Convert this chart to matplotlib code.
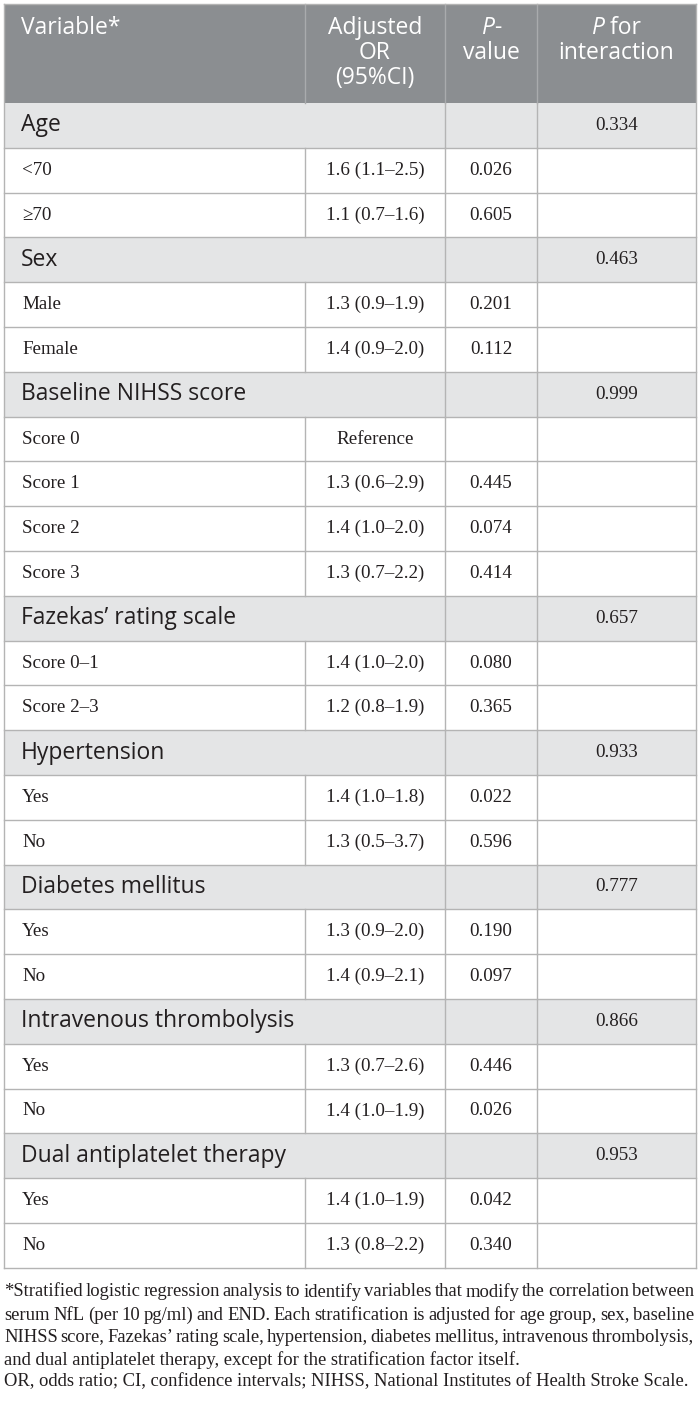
import matplotlib
matplotlib.use('Agg')
import matplotlib.pyplot as plt
from matplotlib.patches import Rectangle

# ---- table content ----
header_cols = [['Variable*'], ['Adjusted', 'OR', '(95%CI)'], ['P-', 'value'], ['P for', 'interaction']]

groups = ['Age', 'Sex', 'Baseline NIHSS score', 'Fazekas\u2019 rating scale', 'Hypertension',
          'Diabetes mellitus', 'Intravenous thrombolysis', 'Dual antiplatelet therapy']
p_interaction = ['0.334', '0.463', '0.999', '0.657', '0.933', '0.777', '0.866', '0.953']

sub_labels = [['<70', '\u226570'], ['Male', 'Female'], ['Score 0', 'Score 1', 'Score 2', 'Score 3'],
              ['Score 0\u20131', 'Score 2\u20133'], ['Yes', 'No'], ['Yes', 'No'], ['Yes', 'No'], ['Yes', 'No']]
adjusted_or = [['1.6 (1.1\u20132.5)', '1.1 (0.7\u20131.6)'],
               ['1.3 (0.9\u20131.9)', '1.4 (0.9\u20132.0)'],
               ['Reference', '1.3 (0.6\u20132.9)', '1.4 (1.0\u20132.0)', '1.3 (0.7\u20132.2)'],
               ['1.4 (1.0\u20132.0)', '1.2 (0.8\u20131.9)'],
               ['1.4 (1.0\u20131.8)', '1.3 (0.5\u20133.7)'],
               ['1.3 (0.9\u20132.0)', '1.4 (0.9\u20132.1)'],
               ['1.3 (0.7\u20132.6)', '1.4 (1.0\u20131.9)'],
               ['1.4 (1.0\u20131.9)', '1.3 (0.8\u20132.2)']]
p_values = [['0.026', '0.605'], ['0.201', '0.112'], ['', '0.445', '0.074', '0.414'],
            ['0.080', '0.365'], ['0.022', '0.596'], ['0.190', '0.097'], ['0.446', '0.026'],
            ['0.042', '0.340']]

footnote = [
    '*Stratified logistic regression analysis to identify variables that modify the correlation between',
    'serum NfL (per 10 pg/ml) and END. Each stratification is adjusted for age group, sex, baseline',
    'NIHSS score, Fazekas\u2019 rating scale, hypertension, diabetes mellitus, intravenous thrombolysis,',
    'and dual antiplatelet therapy, except for the stratification factor itself.',
    'OR, odds ratio; CI, confidence intervals; NIHSS, National Institutes of Health Stroke Scale.',
]

# ---- layout / style ----
W, H = 700, 1403
SANS = 'Open Sans'
SERIF = 'Liberation Serif'
HEAD_BG = '#8b8e91'
GROUP_BG = '#e4e5e6'
LINE = '#b4b4b4'
HEAD_LINE = '#a9abad'
INK = '#231f20'

left, right = 4, 696
cols = [left, 305, 445, 537, right]
header_top, header_bot = 4, 103
row_h = 44.8

fig = plt.figure(figsize=(W / 100, H / 100), dpi=100)
ax = fig.add_axes([0, 0, 1, 1])
ax.set_xlim(0, W)
ax.set_ylim(H, 0)
ax.axis('off')
renderer = fig.canvas.get_renderer()


def text_width(s, **kw):
    t = ax.text(0, 0, s, **kw)
    w = t.get_window_extent(renderer).width
    t.remove()
    return w


def runs_centered(xc, y, runs, **kw):
    # runs: list of (text, style) drawn side by side, centred on xc
    widths = [text_width(s, style=st, **kw) for s, st in runs]
    x = xc - sum(widths) / 2
    for (s, st), w in zip(runs, widths):
        ax.text(x, y, s, style=st, ha='left', va='center', **kw)
        x += w


# ---- header ----
ax.add_patch(Rectangle((left, header_top), right - left, header_bot - header_top,
                       facecolor=HEAD_BG, edgecolor='none'))
for x in cols[1:4]:
    ax.plot([x, x], [header_top, header_bot], color=HEAD_LINE, lw=1)

hkw = dict(family=SANS, fontsize=16.5, color='white')
line_y = [28, 53, 78]
ax.text(21, line_y[0], header_cols[0][0], ha='left', va='center', **hkw)
for i, line in enumerate(header_cols[1]):
    ax.text((cols[1] + cols[2]) / 2, line_y[i], line, ha='center', va='center', **hkw)
runs_centered((cols[2] + cols[3]) / 2, line_y[0], [('P', 'italic'), ('-', 'normal')], **hkw)
ax.text((cols[2] + cols[3]) / 2, line_y[1], header_cols[2][1], ha='center', va='center', **hkw)
runs_centered((cols[3] + cols[4]) / 2, line_y[0], [('P', 'italic'), (' for', 'normal')], **hkw)
ax.text((cols[3] + cols[4]) / 2, line_y[1], header_cols[3][1], ha='center', va='center', **hkw)

# ---- body ----
dkw = dict(family=SERIF, fontsize=13.7, color=INK)
gkw = dict(family=SANS, fontsize=16.5, color=INK)
y = header_bot
for g, name in enumerate(groups):
    ax.add_patch(Rectangle((left, y), right - left, row_h, facecolor=GROUP_BG, edgecolor='none'))
    for x in cols[2:4]:
        ax.plot([x, x], [y, y + row_h], color=LINE, lw=1)
    yc = y + row_h / 2
    ax.text(21, yc, name, ha='left', va='center', **gkw)
    ax.text((cols[3] + cols[4]) / 2, yc, p_interaction[g], ha='center', va='center', **dkw)
    y += row_h
    ax.plot([left, right], [y, y], color=LINE, lw=1)
    for lab, orv, pv in zip(sub_labels[g], adjusted_or[g], p_values[g]):
        for x in cols[1:4]:
            ax.plot([x, x], [y, y + row_h], color=LINE, lw=1)
        yc = y + row_h / 2
        ax.text(22, yc, lab, ha='left', va='center', **dkw)
        ax.text((cols[1] + cols[2]) / 2, yc, orv, ha='center', va='center', **dkw)
        ax.text((cols[2] + cols[3]) / 2, yc, pv, ha='center', va='center', **dkw)
        y += row_h
        ax.plot([left, right], [y, y], color=LINE, lw=1)

table_bot = y
ax.plot([left, left], [header_top, table_bot], color=LINE, lw=1)
ax.plot([right, right], [header_top, table_bot], color=LINE, lw=1)
ax.plot([left, right], [header_top, header_top], color=LINE, lw=1)

# ---- footnote (justified like the journal layout) ----
fkw = dict(family=SERIF, color=INK)
fs = 12.0 * 684 / text_width(footnote[4], fontsize=12.0, **fkw)
fkw['fontsize'] = fs
foot_y = [1292, 1315, 1337, 1360, 1382]
for i, line in enumerate(footnote):
    if i < 3:
        words = line.split(' ')
        widths = [text_width(w, **fkw) for w in words]
        gap = (694 - left - sum(widths)) / (len(words) - 1)
        x = left
        for w, wd in zip(words, widths):
            ax.text(x, foot_y[i], w, ha='left', va='center', **fkw)
            x += wd + gap
    else:
        ax.text(left, foot_y[i], line, ha='left', va='center', **fkw)

fig.savefig('out.png', dpi=100, facecolor='white')
